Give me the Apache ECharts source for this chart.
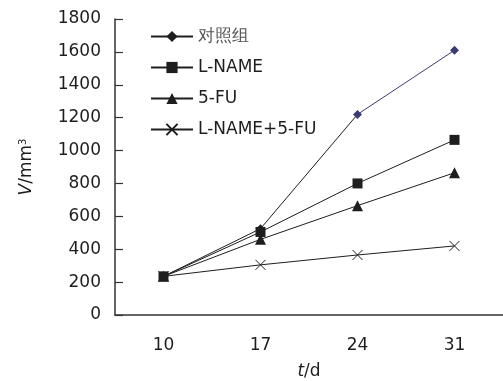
<!DOCTYPE html>
<html>
<head>
<meta charset="utf-8">
<style>
  html, body { margin: 0; padding: 0; background: #fff; }
  #chart { width: 503px; height: 381px; }
</style>
<script src="https://cdn.jsdelivr.net/npm/echarts@6/dist/echarts.min.js"></script>
</head>
<body>
<div id="chart"></div>
<script>
// Tumour volume (mm³) by day of treatment
const days = ['10', '17', '24', '31'];
const seriesNames = ['对照组', 'L-NAME', '5-FU', 'L-NAME+5-FU'];
const controlVol = [235, 525, 1220, 1610];
const lnameVol = [235, 505, 800, 1065];
const fuVol = [235, 460, 665, 865];
const comboVol = [235, 305, 365, 420];
const yTicks = { min: 0, max: 1800, interval: 200 };

const FONT = '"DejaVu Sans", Verdana, sans-serif';
const INK = '#1e1e1e';
const NAVY = '#3b3b74';
const CROSS = 'path://M0,0L10,10M10,0L0,10';

// the control line turns navy on its last segment
const lastSeg = (days.length - 2) / (days.length - 1);
const controlStroke = new echarts.graphic.LinearGradient(0, 0, 1, 0, [
  { offset: 0, color: INK },
  { offset: lastSeg, color: INK },
  { offset: lastSeg, color: NAVY },
  { offset: 1, color: NAVY }
]);

function lineSeries(name, data, symbol, size, extra) {
  return Object.assign({
    name: name,
    type: 'line',
    data: data,
    symbol: symbol,
    symbolSize: size,
    lineStyle: { color: INK, width: 1 },
    itemStyle: { color: INK },
    z: 3
  }, extra || {});
}

const chart = echarts.init(document.getElementById('chart'), null, { renderer: 'canvas' });
chart.setOption({
  animation: false,
  backgroundColor: '#fff',
  textStyle: { fontFamily: FONT },
  grid: { left: 115, right: 0, top: 19, bottom: 66, containLabel: false, outerBoundsMode: 'none' },
  legend: {
    orient: 'vertical',
    left: 145,
    top: 23,
    itemWidth: 42,
    itemHeight: 14,
    itemGap: 14,
    textStyle: { fontFamily: FONT, fontSize: 17, color: INK, padding: [0, 0, 0, 0] },
    data: seriesNames.map(function (n, i) {
      return i === 0
        ? { name: n, itemStyle: { color: INK }, lineStyle: { color: INK }, textStyle: { color: '#555' } }
        : { name: n };
    })
  },
  xAxis: {
    type: 'category',
    data: days,
    boundaryGap: true,
    name: '{i|t}/d',
    nameLocation: 'middle',
    nameGap: 48,
    nameTextStyle: {
      fontFamily: FONT, fontSize: 17, color: INK,
      rich: { i: { fontFamily: FONT, fontSize: 17, fontStyle: 'italic', color: INK } }
    },
    axisLine: { lineStyle: { color: '#333', width: 1.5 } },
    axisTick: { inside: true, length: 7, lineStyle: { color: '#333', width: 1.2 } },
    axisLabel: { fontFamily: FONT, fontSize: 17, color: INK, margin: 22 },
    splitLine: { show: false }
  },
  yAxis: {
    type: 'value',
    min: yTicks.min,
    max: yTicks.max,
    interval: yTicks.interval,
    name: '{i|V}/mm{s|3}',
    nameLocation: 'middle',
    nameGap: 80,
    nameTextStyle: {
      fontFamily: FONT, fontSize: 17, color: INK,
      rich: {
        i: { fontFamily: FONT, fontSize: 17, fontStyle: 'italic', color: INK },
        s: { fontFamily: FONT, fontSize: 10, color: INK, verticalAlign: 'top', lineHeight: 10, padding: [0, 0, 9, 0] }
      }
    },
    axisLine: { show: true, lineStyle: { color: '#333', width: 1.5 } },
    axisTick: { show: true, inside: true, length: 8, lineStyle: { color: '#333', width: 1.2 } },
    axisLabel: {
      fontFamily: FONT, fontSize: 17, color: INK, margin: 14,
      formatter: function (v) { return String(v); }
    },
    splitLine: { show: false }
  },
  series: [
    lineSeries(seriesNames[0], controlVol, 'diamond', 9, {
      lineStyle: { color: controlStroke, width: 1 },
      itemStyle: { color: function (p) { return p.dataIndex >= days.length - 2 ? NAVY : INK; } }
    }),
    lineSeries(seriesNames[1], lnameVol, 'rect', 10),
    lineSeries(seriesNames[2], fuVol, 'triangle', 11),
    lineSeries(seriesNames[3], comboVol, CROSS, 10, {
      itemStyle: { color: 'none', borderColor: INK, borderWidth: 1 }
    })
  ]
});
</script>
</body>
</html>
